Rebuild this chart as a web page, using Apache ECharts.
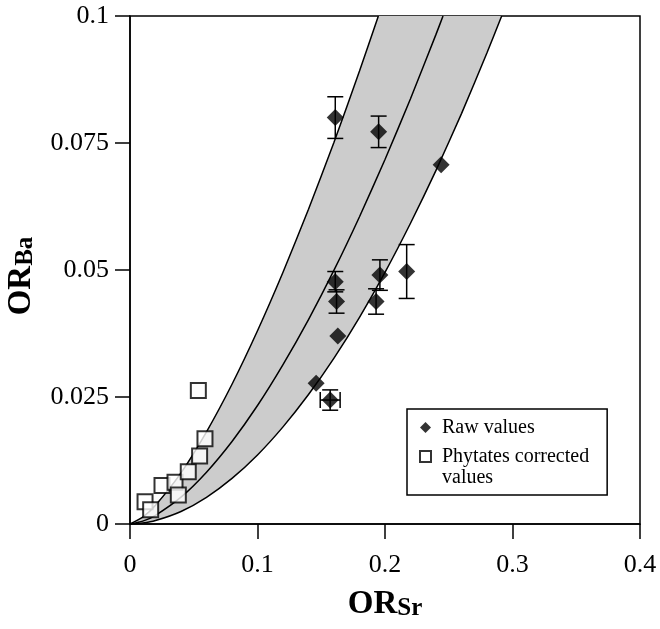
<!DOCTYPE html>
<html>
<head>
<meta charset="utf-8">
<script src="https://cdn.jsdelivr.net/npm/echarts@6/dist/echarts.min.js"></script>
<style>
  html, body { margin: 0; padding: 0; background: #fff; }
  #main { width: 660px; height: 629px; }
</style>
</head>
<body>
<div id="main"></div>
<script>
// raw values (filled diamonds) with error bars
const rawX = [0.161, 0.195, 0.244, 0.161, 0.162, 0.163, 0.146, 0.157, 0.196, 0.193, 0.217];
const rawY = [0.080, 0.0772, 0.0707, 0.0477, 0.0438, 0.037, 0.0277, 0.0244, 0.049, 0.0438, 0.0497];
const rawErrY = [0.0041, 0.0031, 0, 0.002, 0.0023, 0, 0, 0.002, 0.003, 0.0025, 0.0053];
const rawErrX = [0, 0, 0, 0, 0, 0, 0, 0.0078, 0, 0, 0];

// phytates corrected values (open squares)
const corrX = [0.0118, 0.0162, 0.0251, 0.0353, 0.0379, 0.0457, 0.0536, 0.0546, 0.0588];
const corrY = [0.0044, 0.0028, 0.0076, 0.0082, 0.0057, 0.0103, 0.0263, 0.0134, 0.0168];

// curves
const leftX = [0, 0.01, 0.02, 0.04, 0.06, 0.08, 0.10, 0.12, 0.14, 0.16, 0.18, 0.1948];
const leftY = [0, 0.00135, 0.00369, 0.01007, 0.01815, 0.02751, 0.03804, 0.04956, 0.06195, 0.07514, 0.08915, 0.1];
const midX = [0, 0.01, 0.02, 0.04, 0.06, 0.08, 0.10, 0.12, 0.14, 0.16, 0.18, 0.20, 0.22, 0.24, 0.2455];
const midY = [0, 0.00056, 0.00172, 0.00529, 0.01021, 0.01625, 0.02332, 0.03138, 0.04025, 0.04996, 0.06049, 0.07176, 0.08372, 0.09638, 0.1];
const rightX = [0, 0.01, 0.02, 0.04, 0.06, 0.08, 0.10, 0.12, 0.14, 0.16, 0.18, 0.20, 0.22, 0.24, 0.26, 0.28, 0.2915];
const rightY = [0, 0.00019, 0.00068, 0.00247, 0.00526, 0.00898, 0.01359, 0.01912, 0.02548, 0.03265, 0.04068, 0.04954, 0.0592, 0.0696, 0.08079, 0.09277, 0.1];

const xTickLabels = ["0", "0.1", "0.2", "0.3", "0.4"];
const yTickLabels = ["0", "0.025", "0.05", "0.075", "0.1"];

const FONT = "Liberation Serif";

const zip = (xs, ys) => xs.map((x, i) => [x, ys[i]]);
const leftPts = zip(leftX, leftY);
const midPts = zip(midX, midY);
const rightPts = zip(rightX, rightY);

const chart = echarts.init(document.getElementById("main"));

const curve = (pts) => ({
  type: "line",
  data: pts,
  showSymbol: false,
  silent: true,
  smooth: 0.2,
  z: 3,
  lineStyle: { color: "#000", width: 1.5 },
});

const titleRich = {
  a: { fontFamily: FONT, fontWeight: "bold", fontSize: 33, lineHeight: 34, color: "#000" },
  b: { fontFamily: FONT, fontWeight: "bold", fontSize: 25, lineHeight: 8, verticalAlign: "bottom", color: "#000" },
};

chart.setOption({
  animation: false,
  grid: {
    left: 130, right: 20, top: 16, bottom: 105,
    outerBoundsMode: "none",
    show: true, borderColor: "#000", borderWidth: 1.5,
  },
  legend: {
    left: 407, top: 409,
    orient: "vertical",
    itemGap: -13,
    itemWidth: 11, itemHeight: 11,
    padding: [8, 18, 7, 12],
    borderColor: "#000", borderWidth: 1.5,
    backgroundColor: "#fff",
    textStyle: { fontFamily: FONT, fontSize: 20, color: "#000", lineHeight: 21, padding: [0, 0, 0, 6] },
    formatter: (name) => name === "Phytates corrected values" ? " \nPhytates corrected\nvalues" : name,
    data: ["Raw values", "Phytates corrected values"],
  },
  xAxis: {
    type: "value", min: 0, max: 0.4, interval: 0.1,
    splitLine: { show: false },
    axisLine: { lineStyle: { color: "#000", width: 1.5 } },
    axisTick: { inside: false, length: 15, lineStyle: { color: "#000", width: 1.5 } },
    axisLabel: {
      margin: 28, color: "#000", fontFamily: FONT, fontSize: 26,
      formatter: (v, i) => xTickLabels[i],
    },
    name: "{a|OR}{b|Sr}",
    nameLocation: "middle",
    nameGap: 63,
    nameTextStyle: { rich: titleRich },
  },
  yAxis: {
    type: "value", min: 0, max: 0.1, interval: 0.025,
    splitLine: { show: false },
    axisLine: { lineStyle: { color: "#000", width: 1.5 } },
    axisTick: { inside: false, length: 15, lineStyle: { color: "#000", width: 1.5 } },
    axisLabel: {
      margin: 21, color: "#000", fontFamily: FONT, fontSize: 26,
      formatter: (v, i) => yTickLabels[i],
    },
    name: "{a|OR}{b|Ba}",
    nameLocation: "middle",
    nameGap: 92,
    nameTextStyle: { rich: titleRich, padding: [0, 12, 0, 0] },
  },
  series: [
    {
      // shaded band between the outer curves
      type: "custom",
      silent: true,
      z: 1,
      data: [0],
      renderItem: (params, api) => {
        const pts = leftPts.map((p) => api.coord(p))
          .concat(rightPts.slice().reverse().map((p) => api.coord(p)));
        return { type: "polygon", shape: { points: pts }, style: { fill: "#cccccc" } };
      },
    },
    curve(leftPts),
    curve(midPts),
    curve(rightPts),
    {
      // error bars
      type: "custom",
      silent: true,
      z: 4,
      data: rawX.map((x, i) => [x, rawY[i], rawErrY[i], rawErrX[i]]),
      renderItem: (params, api) => {
        const x = api.value(0), y = api.value(1), ey = api.value(2), ex = api.value(3);
        const style = { stroke: "#000", lineWidth: 1.5 };
        const cap = 8;
        const kids = [];
        if (ey > 0) {
          const t = api.coord([x, y + ey]);
          const b = api.coord([x, y - ey]);
          kids.push({ type: "line", shape: { x1: t[0], y1: t[1], x2: b[0], y2: b[1] }, style });
          kids.push({ type: "line", shape: { x1: t[0] - cap, y1: t[1], x2: t[0] + cap, y2: t[1] }, style });
          kids.push({ type: "line", shape: { x1: b[0] - cap, y1: b[1], x2: b[0] + cap, y2: b[1] }, style });
        }
        if (ex > 0) {
          const l = api.coord([x - ex, y]);
          const r = api.coord([x + ex, y]);
          kids.push({ type: "line", shape: { x1: l[0], y1: l[1], x2: r[0], y2: r[1] }, style });
          kids.push({ type: "line", shape: { x1: l[0], y1: l[1] - cap, x2: l[0], y2: l[1] + cap }, style });
          kids.push({ type: "line", shape: { x1: r[0], y1: r[1] - cap, x2: r[0], y2: r[1] + cap }, style });
        }
        return { type: "group", children: kids };
      },
    },
    {
      name: "Raw values",
      type: "scatter",
      z: 5,
      symbol: "diamond",
      symbolSize: 17,
      itemStyle: { color: "#000" },
      data: zip(rawX, rawY),
    },
    {
      name: "Phytates corrected values",
      type: "scatter",
      z: 5,
      symbol: "rect",
      symbolSize: 15,
      itemStyle: { color: "#fff", borderColor: "#000", borderWidth: 2 },
      data: zip(corrX, corrY),
    },
  ],
});
</script>
</body>
</html>
